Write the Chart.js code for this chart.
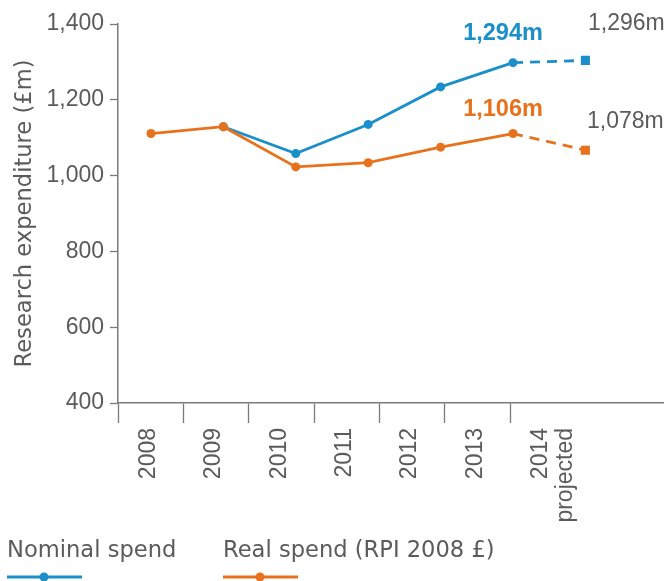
<!DOCTYPE html>
<html><head><meta charset="utf-8">
<script src="https://cdn.jsdelivr.net/npm/chart.js@4"></script>
<style>html,body{margin:0;padding:0;background:#fff}#wrap{width:670px;height:581px;position:relative}</style>
</head><body><div id="wrap"><canvas id="c"></canvas></div>
<script>
// ---- data ----
const years = [2008, 2009, 2010, 2011, 2012, 2013, 2014];
const yearLabels = ['2008', '2009', '2010', '2011', '2012', '2013', ['2014', 'projected']];
const nominalSpend = [null, 1129, 1058, 1135, 1234, 1298, 1304];
const realSpend = [1111, 1129, 1023, 1034, 1075, 1111, 1067];
const nominalCallouts = [null, null, null, null, null, '1,294m', '1,296m'];
const realCallouts = [null, null, null, null, null, '1,106m', '1,078m'];
const yTicks = [400, 600, 800, 1000, 1200, 1400];
const seriesNames = ['Nominal spend', 'Real spend (RPI 2008 £)'];
const projectedIndex = years.length - 1;

// ---- style ----
const BLUE = '#1a8fc9', ORANGE = '#e8721c';
const TEXT = '#5b5b5b', AXIS = '#7a7a7a';
const NUMFONT = '"Liberation Sans", Arial, sans-serif';
const WORDFONT = '"DejaVu Sans", sans-serif';

function calloutStyles(color, boldDy, projDx, projDy) {
  return years.map((y, i) => i === projectedIndex
    ? { font: '23px ' + NUMFONT, color: TEXT, dx: projDx, dy: projDy }
    : { font: 'bold 23.5px ' + NUMFONT, color: color, dx: -10, dy: boldDy });
}

function mkDataset(label, values, color, callouts, styles, order) {
  return {
    label, order,
    data: values.map((v, i) => ({ x: years[i], y: v })),
    borderColor: color, backgroundColor: color,
    pointBackgroundColor: color, pointBorderWidth: 0,
    borderWidth: 2.8, tension: 0,
    pointStyle: c => c.dataIndex === projectedIndex ? 'rect' : 'circle',
    pointRadius: c => c.dataIndex === projectedIndex ? 6.4 : 4.5,
    pointHoverRadius: c => c.dataIndex === projectedIndex ? 6.4 : 4.5,
    segment: { borderDash: c => c.p1DataIndex === projectedIndex ? [10, 7] : undefined },
    callouts, calloutStyle: styles
  };
}

const calloutPlugin = {
  id: 'callouts',
  afterDatasetsDraw(chart) {
    const ctx = chart.ctx;
    chart.data.datasets.forEach((ds, di) => {
      const meta = chart.getDatasetMeta(di);
      ds.callouts.forEach((txt, i) => {
        if (!txt) return;
        const pt = meta.data[i], st = ds.calloutStyle[i];
        ctx.save();
        ctx.font = st.font; ctx.fillStyle = st.color;
        ctx.textAlign = 'center'; ctx.textBaseline = 'alphabetic';
        ctx.fillText(txt, pt.x + st.dx, pt.y + st.dy);
        ctx.restore();
      });
    });
  }
};

const legendPlugin = {
  id: 'lineLegend',
  afterDraw(chart, args, opts) {
    const ctx = chart.ctx;
    chart.data.datasets.forEach((ds, di) => {
      const x = opts.xs[di];
      ctx.save();
      ctx.font = '22.6px ' + WORDFONT; ctx.fillStyle = TEXT;
      ctx.textAlign = 'left'; ctx.textBaseline = 'alphabetic';
      ctx.fillText(ds.label, x, opts.textY);
      ctx.strokeStyle = ds.borderColor; ctx.lineWidth = 3;
      ctx.beginPath(); ctx.moveTo(x, opts.lineY); ctx.lineTo(x + 75, opts.lineY); ctx.stroke();
      ctx.fillStyle = ds.borderColor;
      ctx.beginPath(); ctx.arc(x + 37, opts.lineY, 4.5, 0, Math.PI * 2); ctx.fill();
      ctx.restore();
    });
  }
};

new Chart(document.getElementById('c'), {
  type: 'line',
  data: {
    datasets: [
      mkDataset(seriesNames[0], nominalSpend, BLUE, nominalCallouts, calloutStyles(BLUE, -23, 41, -30), 1),
      mkDataset(seriesNames[1], realSpend, ORANGE, realCallouts, calloutStyles(ORANGE, -18, 40, -22), 0)
    ]
  },
  options: {
    responsive: true, maintainAspectRatio: false, devicePixelRatio: 1, animation: false,
    layout: { padding: { top: 24, right: 2, left: 0, bottom: 0 } },
    plugins: {
      legend: { display: false }, tooltip: { enabled: false },
      lineLegend: { xs: [7, 223], textY: 557, lineY: 577 }
    },
    scales: {
      x: { type: 'linear', display: false, min: 2007.545, max: 2015.08 },
      xLabels: {
        type: 'linear', axis: 'x', position: 'bottom', min: 0, max: 8.35,
        afterBuildTicks: s => { const t = []; for (let i = 0; i < years.length; i++) { t.push({ value: i }); t.push({ value: i + 0.47 }); } s.ticks = t; },
        afterFit: s => { s.height = 178; },
        grid: {
          drawOnChartArea: false, drawTicks: true, tickLength: 20, tickWidth: 1.3,
          color: AXIS,
          tickColor: c => (c.tick && Number.isInteger(c.tick.value)) ? AXIS : 'rgba(0,0,0,0)'
        },
        border: { display: true, color: AXIS, width: 1.5 },
        ticks: {
          autoSkip: false, minRotation: 90, maxRotation: 90, padding: 5, color: TEXT,
          font: { family: NUMFONT, size: 23, lineHeight: 1.1 },
          callback: v => Number.isInteger(v) ? '' : yearLabels[Math.floor(v)]
        }
      },
      y: {
        min: 400, max: 1400,
        afterBuildTicks: s => { s.ticks = yTicks.map(v => ({ value: v })); },
        afterFit: s => { s.width = 118; },
        grid: { drawOnChartArea: false, tickLength: 8, tickWidth: 1.3, color: AXIS },
        border: { color: AXIS, width: 1.5 },
        ticks: { padding: 6, color: TEXT, font: { family: NUMFONT, size: 23 }, callback: v => v.toLocaleString('en-US') },
        title: { display: true, text: 'Research expenditure (£m)', color: TEXT, font: { family: WORDFONT, size: 22.6 }, padding: { top: 12, bottom: 0 } }
      }
    }
  },
  plugins: [calloutPlugin, legendPlugin]
});
</script>
</body></html>
